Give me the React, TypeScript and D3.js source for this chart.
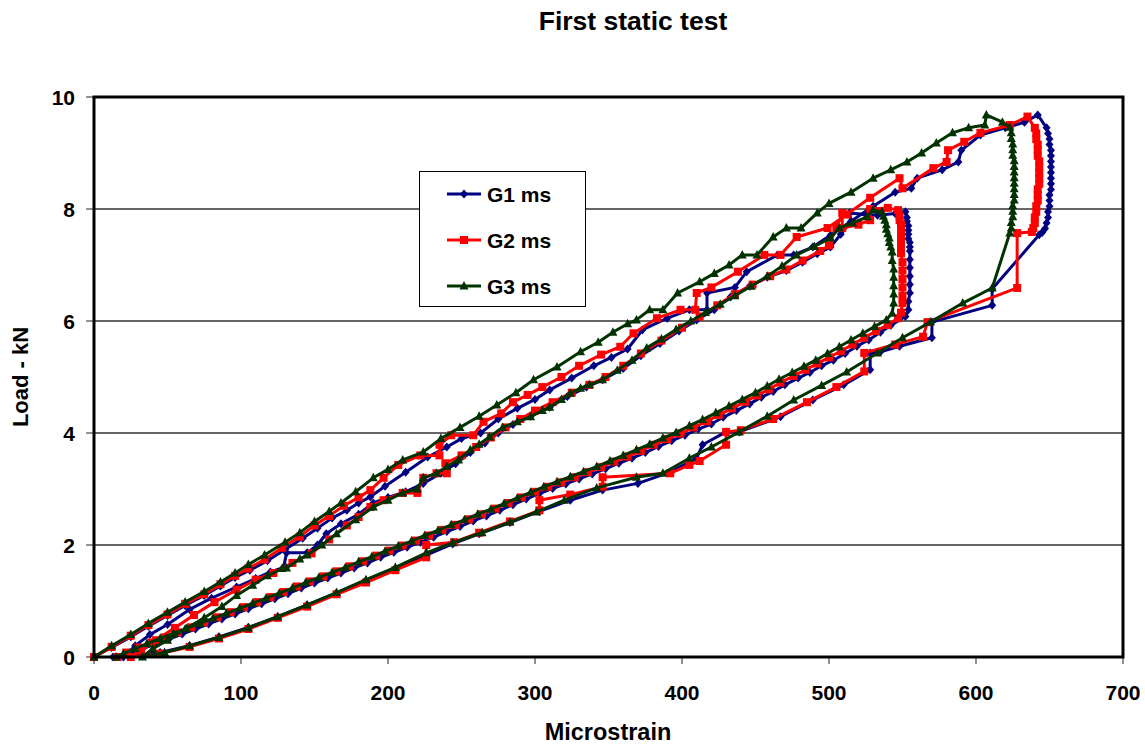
import React from "react";
import * as d3 from "d3";

// [microstrain, load kN] in test order: load up, hold, unload, reload, hold, unload
const g1: [number, number][] = [
  [0, 0], [12, 0.17], [25, 0.36], [37, 0.55], [50, 0.74], [62, 0.92], [75, 1.1], [86, 1.27], [96, 1.42], [106, 1.55],
  [118, 1.72], [130, 1.92], [142, 2.12], [152, 2.3], [162, 2.48], [172, 2.62], [180, 2.75], [188, 2.86], [198, 3.05],
  [212, 3.3], [227, 3.57], [240, 3.75], [250, 3.9], [263, 4.0], [275, 4.25], [288, 4.44], [300, 4.6], [310, 4.77],
  [325, 4.98], [340, 5.2], [352, 5.35], [363, 5.5], [373, 5.84], [390, 6.05], [405, 6.2], [417, 6.2], [417, 6.5],
  [436, 6.6], [444, 6.88], [465, 7.18], [476, 7.18], [489, 7.32], [501, 7.53], [515, 7.78], [530, 8.05], [545, 8.3],
  [556, 8.37], [560, 8.55], [577, 8.7], [588, 8.84], [590, 9.05], [603, 9.32], [620, 9.45], [633, 9.55], [642, 9.68],
  [648, 9.45],
  [649, 9.35], [650, 9.25], [650, 9.15], [651, 9.05], [651, 8.95], [651, 8.85], [651, 8.75], [651, 8.65], [651, 8.55],
  [651, 8.45], [651, 8.35], [650, 8.25], [650, 8.15], [650, 8.05], [649, 7.95], [649, 7.85], [648, 7.75], [647, 7.65],
  [645, 7.58], [643, 7.54],
  [611, 6.57], [611, 6.28], [570, 5.98], [570, 5.7], [548, 5.55], [535, 5.45], [528, 5.43], [528, 5.13], [510, 4.86],
  [489, 4.59], [467, 4.29], [439, 4.02], [430, 4.02], [414, 3.79], [410, 3.55], [392, 3.3], [370, 3.1], [346, 2.98],
  [324, 2.8], [303, 2.6], [283, 2.4], [262, 2.2], [244, 2.02], [226, 1.82], [205, 1.58], [185, 1.36], [165, 1.14],
  [145, 0.93], [125, 0.72], [105, 0.53], [85, 0.36], [65, 0.2], [45, 0.08], [20, 0],
  [28, 0.2], [38, 0.4], [50, 0.58], [65, 0.85], [80, 1.05], [97, 1.25], [110, 1.4], [120, 1.52], [129, 1.6], [131, 1.86],
  [145, 1.86], [152, 2.0], [158, 2.2], [168, 2.38], [180, 2.55], [190, 2.75], [200, 2.85], [212, 2.95], [224, 3.1],
  [236, 3.28], [246, 3.45], [256, 3.65], [266, 3.82], [275, 4.0], [285, 4.15], [297, 4.3], [310, 4.46], [322, 4.65],
  [335, 4.82], [346, 4.95], [360, 5.15], [372, 5.38], [385, 5.6], [398, 5.82], [410, 6.02], [422, 6.2], [433, 6.43],
  [446, 6.62], [458, 6.78], [471, 6.9], [482, 7.05], [492, 7.2], [501, 7.32], [508, 7.55], [515, 7.77], [514, 7.93],
  [525, 7.9], [533, 7.89], [545, 7.92], [552, 7.95],
  [553, 7.85], [553, 7.78], [554, 7.7], [554, 7.62], [554, 7.55], [554, 7.47], [555, 7.4], [555, 7.32], [555, 7.25],
  [555, 7.1], [555, 6.95], [555, 6.8], [555, 6.65], [555, 6.5], [554, 6.35], [554, 6.2], [552, 6.08],
  [542, 5.92], [535, 5.8], [527, 5.66], [519, 5.55], [511, 5.42], [503, 5.3], [495, 5.2], [487, 5.08], [479, 4.98],
  [470, 4.86], [462, 4.74], [454, 4.64], [446, 4.52], [437, 4.4], [428, 4.28], [420, 4.16], [411, 4.07], [402, 3.96],
  [393, 3.86], [384, 3.76], [375, 3.65], [366, 3.55], [357, 3.46], [348, 3.36], [339, 3.27], [330, 3.18], [321, 3.09],
  [312, 3.01], [303, 2.92], [294, 2.82], [285, 2.72], [276, 2.62], [267, 2.52], [258, 2.43], [249, 2.33], [240, 2.24],
  [231, 2.14], [222, 2.05], [213, 1.96], [204, 1.87], [195, 1.78], [186, 1.68], [177, 1.59], [168, 1.5], [159, 1.41],
  [150, 1.32], [141, 1.23], [132, 1.13], [123, 1.04], [114, 0.95], [105, 0.86], [96, 0.77], [87, 0.68], [78, 0.59],
  [69, 0.5], [60, 0.41], [51, 0.32], [42, 0.23], [33, 0.15], [24, 0.07], [13, 0],
];

const g2: [number, number][] = [
  [0, 0], [12, 0.18], [25, 0.38], [37, 0.57], [50, 0.76], [62, 0.95], [75, 1.12], [86, 1.3], [96, 1.45], [105, 1.58],
  [116, 1.74], [128, 1.95], [140, 2.15], [150, 2.35], [160, 2.52], [170, 2.7], [180, 2.85], [188, 2.98], [197, 3.2],
  [207, 3.43], [222, 3.6], [235, 3.6], [235, 3.79], [243, 3.96], [258, 3.96], [265, 4.2], [277, 4.35], [285, 4.55],
  [295, 4.68], [305, 4.82], [318, 5.0], [330, 5.2], [345, 5.4], [358, 5.54], [367, 5.78], [383, 6.05], [399, 6.2],
  [409, 6.2], [410, 6.5], [420, 6.6], [438, 6.88], [456, 7.18], [467, 7.18], [478, 7.5], [499, 7.66], [512, 7.9],
  [528, 8.2], [548, 8.55], [550, 8.37], [571, 8.73], [580, 8.84], [581, 9.05], [592, 9.2], [603, 9.36], [623, 9.5],
  [635, 9.65], [640, 9.45],
  [641, 9.35], [641, 9.25], [642, 9.15], [642, 9.05], [642, 8.95], [643, 8.85], [643, 8.75], [643, 8.65], [643, 8.55],
  [643, 8.45], [642, 8.35], [642, 8.25], [642, 8.15], [641, 8.05], [641, 7.95], [640, 7.85], [640, 7.75], [639, 7.66],
  [638, 7.59],
  [628, 7.57], [628, 6.59], [567, 5.98], [564, 5.72], [545, 5.58], [524, 5.43], [524, 5.1], [505, 4.82], [485, 4.55],
  [462, 4.25], [440, 4.05], [430, 4.02], [430, 3.79], [412, 3.5], [405, 3.43], [392, 3.28], [346, 3.21], [346, 3.04],
  [324, 2.9], [303, 2.8], [303, 2.62], [283, 2.42], [262, 2.22], [245, 2.05], [226, 2.0], [226, 1.78], [205, 1.55],
  [185, 1.33], [165, 1.12], [145, 0.9], [125, 0.7], [105, 0.5], [85, 0.33], [65, 0.18], [45, 0.06], [25, 0],
  [32, 0.12], [42, 0.3], [55, 0.52], [68, 0.75], [82, 0.98], [97, 1.2], [110, 1.38], [122, 1.5], [135, 1.68],
  [148, 1.85], [160, 2.1], [172, 2.35], [180, 2.5], [188, 2.68], [197, 2.8], [210, 2.93], [220, 2.93], [224, 3.2],
  [233, 3.28], [240, 3.28], [239, 3.46], [250, 3.6], [260, 3.75], [270, 3.92], [280, 4.1], [290, 4.25], [300, 4.4],
  [312, 4.55], [325, 4.72], [337, 4.86], [348, 5.0], [360, 5.2], [372, 5.42], [386, 5.65], [400, 5.88], [412, 6.08],
  [424, 6.28], [436, 6.48], [448, 6.65], [460, 6.8], [471, 6.92], [482, 7.08], [494, 7.25], [500, 7.35], [505, 7.66],
  [509, 7.93], [509, 7.66], [520, 7.72], [528, 7.8], [528, 8.0], [540, 8.02], [547, 7.98],
  [548, 7.88], [548, 7.8], [549, 7.72], [549, 7.64], [549, 7.56], [549, 7.48], [549, 7.4], [549, 7.3], [549, 7.21],
  [550, 7.05], [550, 6.9], [550, 6.75], [550, 6.6], [550, 6.45], [550, 6.32], [549, 6.15], [547, 6.05],
  [540, 5.93], [532, 5.82], [524, 5.7], [516, 5.58], [508, 5.46], [500, 5.35], [492, 5.24], [484, 5.13], [476, 5.02],
  [467, 4.9], [459, 4.78], [451, 4.67], [443, 4.56], [434, 4.44], [425, 4.32], [417, 4.21], [408, 4.1], [399, 3.99],
  [390, 3.89], [381, 3.79], [372, 3.68], [363, 3.58], [354, 3.49], [345, 3.39], [336, 3.3], [327, 3.21], [318, 3.12],
  [309, 3.04], [300, 2.95], [291, 2.85], [282, 2.75], [273, 2.65], [264, 2.55], [255, 2.46], [246, 2.36], [237, 2.27],
  [228, 2.17], [219, 2.08], [210, 1.99], [201, 1.9], [192, 1.81], [183, 1.71], [174, 1.62], [165, 1.53], [156, 1.44],
  [147, 1.35], [138, 1.26], [129, 1.16], [120, 1.07], [111, 0.98], [102, 0.89], [93, 0.8], [84, 0.71], [75, 0.62],
  [66, 0.53], [57, 0.44], [48, 0.35], [39, 0.26], [30, 0.17], [22, 0.08], [16, 0],
];

const g3: [number, number][] = [
  [0, 0], [12, 0.2], [25, 0.4], [37, 0.6], [50, 0.8], [62, 0.98], [75, 1.17], [86, 1.34], [96, 1.5], [105, 1.65],
  [116, 1.82], [130, 2.05], [140, 2.22], [150, 2.42], [160, 2.6], [168, 2.75], [178, 2.95], [190, 3.2], [200, 3.35],
  [210, 3.52], [224, 3.66], [236, 3.9], [249, 4.1], [262, 4.3], [274, 4.5], [287, 4.72], [299, 4.95], [315, 5.18],
  [331, 5.45], [343, 5.62], [353, 5.8], [363, 5.95], [369, 6.02], [378, 6.2], [387, 6.2], [397, 6.5], [412, 6.7],
  [422, 6.85], [432, 7.0], [441, 7.18], [451, 7.18], [462, 7.5], [471, 7.66], [481, 7.66], [492, 7.93], [500, 8.1],
  [515, 8.3], [530, 8.55], [542, 8.7], [553, 8.84], [563, 9.0], [573, 9.18], [584, 9.36], [595, 9.45], [606, 9.5],
  [607, 9.68], [618, 9.55], [623, 9.46],
  [624, 9.36], [624, 9.26], [625, 9.16], [625, 9.06], [625, 8.96], [626, 8.86], [626, 8.76], [626, 8.66], [626, 8.56],
  [626, 8.46], [626, 8.36], [626, 8.26], [626, 8.16], [625, 8.06], [625, 7.96], [625, 7.86], [624, 7.76], [624, 7.66],
  [623, 7.57],
  [611, 6.59], [591, 6.32], [569, 5.98], [550, 5.7], [533, 5.43], [512, 5.09], [495, 4.85], [476, 4.59], [458, 4.3],
  [439, 4.02], [420, 3.75], [405, 3.55], [387, 3.28], [369, 3.21], [342, 3.02], [320, 2.8], [301, 2.59], [283, 2.41],
  [264, 2.22], [244, 2.04], [226, 1.86], [205, 1.6], [185, 1.38], [165, 1.15], [145, 0.93], [125, 0.72], [105, 0.52],
  [85, 0.35], [65, 0.2], [48, 0.08], [33, 0],
  [40, 0.15], [50, 0.3], [62, 0.5], [75, 0.7], [87, 0.9], [97, 1.1], [108, 1.28], [118, 1.45], [128, 1.58], [131, 1.59],
  [140, 1.75], [145, 1.82], [155, 2.0], [165, 2.2], [178, 2.45], [190, 2.68], [200, 2.8], [210, 2.93], [220, 3.0],
  [224, 3.2], [233, 3.28], [240, 3.4], [248, 3.52], [256, 3.7], [262, 3.8], [269, 3.93], [278, 4.1], [288, 4.2],
  [297, 4.29], [305, 4.4], [310, 4.46], [318, 4.6], [324, 4.71], [331, 4.8], [337, 4.86], [346, 4.95], [356, 5.12],
  [366, 5.3], [376, 5.52], [386, 5.68], [396, 5.85], [406, 6.0], [416, 6.15], [426, 6.3], [436, 6.45], [447, 6.62],
  [458, 6.8], [468, 6.98], [478, 7.18], [490, 7.33], [501, 7.48], [507, 7.66], [516, 7.75], [526, 7.86], [530, 7.98],
  [536, 7.95],
  [537, 7.87], [538, 7.8], [539, 7.72], [539, 7.64], [540, 7.56], [541, 7.48], [541, 7.4], [542, 7.32], [543, 7.23],
  [543, 7.08], [544, 6.93], [544, 6.78], [544, 6.63], [544, 6.48], [544, 6.32], [543, 6.14], [539, 6.02],
  [531, 5.9], [523, 5.78], [515, 5.66], [507, 5.54], [499, 5.42], [491, 5.3], [483, 5.19], [475, 5.08], [466, 4.96],
  [458, 4.84], [450, 4.72], [441, 4.6], [432, 4.48], [423, 4.36], [414, 4.24], [405, 4.13], [396, 4.01], [387, 3.91],
  [378, 3.8], [369, 3.7], [360, 3.6], [351, 3.5], [342, 3.4], [333, 3.31], [324, 3.22], [315, 3.13], [306, 3.04],
  [297, 2.94], [288, 2.84], [279, 2.74], [270, 2.64], [261, 2.55], [252, 2.45], [243, 2.36], [234, 2.26], [225, 2.17],
  [216, 2.07], [207, 1.98], [198, 1.89], [189, 1.79], [180, 1.7], [171, 1.6], [162, 1.51], [153, 1.42], [144, 1.33],
  [135, 1.23], [126, 1.14], [117, 1.05], [108, 0.96], [99, 0.87], [90, 0.78], [81, 0.69], [72, 0.6], [63, 0.51],
  [54, 0.42], [45, 0.33], [36, 0.24], [28, 0.15], [20, 0.06], [15, 0],
];

const seriesNames = ["G1 ms", "G2 ms", "G3 ms"];
const seriesColors = ["#000080", "#FF0000", "#003300"];
const xTicks = [0, 100, 200, 300, 400, 500, 600, 700];
const yTicks = [0, 2, 4, 6, 8, 10];

const W = 1145, H = 746;
const left = 94, right = 1123, top = 97, bottom = 657;
const font = "Arial, 'Liberation Sans', sans-serif";

function Marker({ kind, x, y, color }: { kind: number; x: number; y: number; color: string }) {
  if (kind === 0) {
    return <path d={`M${x},${y - 4.5}L${x + 4},${y}L${x},${y + 4.5}L${x - 4},${y}Z`} fill={color} />;
  }
  if (kind === 1) {
    return <rect x={x - 4} y={y - 4} width={8} height={8} fill={color} />;
  }
  return <path d={`M${x},${y - 5}L${x + 4.5},${y + 3.5}L${x - 4.5},${y + 3.5}Z`} fill={color} />;
}

export default function App() {
  const x = d3.scaleLinear().domain([0, 700]).range([left, right]);
  const y = d3.scaleLinear().domain([0, 10]).range([bottom, top]);
  const line = d3.line<[number, number]>().x(d => x(d[0])).y(d => y(d[1]));
  const all = [g1, g2, g3];

  return (
    <svg width={W} height={H} style={{ position: "absolute", left: 0, top: 0, background: "#fff" }}>
      <text x={633} y={30} textAnchor="middle" fontFamily={font} fontWeight="bold" fontSize={26.5}>First static test</text>

      {/* grid */}
      {yTicks.filter(t => t > 0 && t < 10).map(t => (
        <line key={t} x1={left} x2={right} y1={y(t)} y2={y(t)} stroke="#333" strokeWidth={1.3} />
      ))}

      {/* ticks */}
      {yTicks.map(t => (
        <g key={"y" + t}>
          <line x1={left - 8} x2={left} y1={y(t)} y2={y(t)} stroke="#555" strokeWidth={1.3} />
          <text x={left - 19} y={y(t) + 7.5} textAnchor="end" fontFamily={font} fontWeight="bold" fontSize={21}>{t}</text>
        </g>
      ))}
      {xTicks.map(t => (
        <g key={"x" + t}>
          <line x1={x(t)} x2={x(t)} y1={bottom} y2={bottom + 7} stroke="#555" strokeWidth={1.3} />
          <text x={x(t)} y={bottom + 43} textAnchor="middle" fontFamily={font} fontWeight="bold" fontSize={21}>{t}</text>
        </g>
      ))}

      {/* series */}
      {all.map((data, i) => (
        <g key={i}>
          <path d={line(data) || ""} fill="none" stroke={seriesColors[i]} strokeWidth={3} strokeLinejoin="round" />
          {data.map((d, j) => (
            <Marker key={j} kind={i} x={x(d[0])} y={y(d[1])} color={seriesColors[i]} />
          ))}
        </g>
      ))}

      {/* frame */}
      <rect x={left} y={top} width={right - left} height={bottom - top} fill="none" stroke="#000" strokeWidth={3} />

      {/* legend */}
      <rect x={419.5} y={171.5} width={166} height={135} fill="#fff" stroke="#000" strokeWidth={1} />
      {seriesNames.map((n, i) => {
        const ly = 194 + i * 46;
        return (
          <g key={n}>
            <line x1={447} x2={481} y1={ly} y2={ly} stroke={seriesColors[i]} strokeWidth={3} />
            <Marker kind={i} x={464} y={ly} color={seriesColors[i]} />
            <text x={487} y={ly + 7.5} fontFamily={font} fontWeight="bold" fontSize={21}>{n}</text>
          </g>
        );
      })}

      <text x={608} y={740} textAnchor="middle" fontFamily={font} fontWeight="bold" fontSize={23.5}>Microstrain</text>
      <text transform={`translate(28,${(top + bottom) / 2}) rotate(-90)`} textAnchor="middle" fontFamily={font} fontWeight="bold" fontSize={22}>Load - kN</text>
    </svg>
  );
}
